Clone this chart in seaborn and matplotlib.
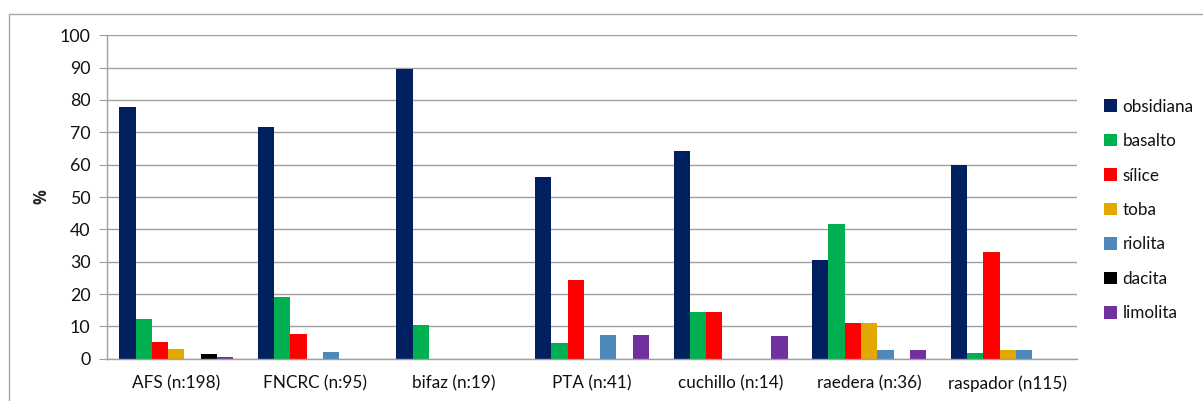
import matplotlib
matplotlib.use("Agg")
import matplotlib.pyplot as plt
import seaborn as sns
import pandas as pd
from matplotlib.patches import Rectangle, Patch

categories = ["AFS (n:198)", "FNCRC (n:95)", "bifaz (n:19)", "PTA (n:41)",
              "cuchillo (n:14)", "raedera (n:36)", "raspador (n115)"]
materials = ["obsidiana", "basalto", "sílice", "toba", "riolita", "dacita", "limolita"]

obsidiana = [77.9, 71.7, 89.5, 56.1, 64.3, 30.6, 60.0]
basalto   = [12.2, 19.2, 10.5, 4.9, 14.3, 41.7, 1.7]
silice    = [5.2, 7.5, 0.0, 24.4, 14.3, 11.1, 33.0]
toba      = [3.0, 0.0, 0.0, 0.0, 0.0, 11.0, 2.6]
riolita   = [0.0, 2.1, 0.0, 7.3, 0.0, 2.8, 2.6]
dacita    = [1.5, 0.0, 0.0, 0.0, 0.0, 0.0, 0.0]
limolita  = [0.5, 0.0, 0.0, 7.3, 7.1, 2.8, 0.0]

colors = ["#002060", "#00B050", "#FF0000", "#E3A800", "#4F88BD", "#000000", "#7030A0"]

series = [obsidiana, basalto, silice, toba, riolita, dacita, limolita]
rows = []
for mat, vals in zip(materials, series):
    for cat, v in zip(categories, vals):
        rows.append({"cat": cat, "mat": mat, "val": v})
df = pd.DataFrame(rows)

sns.set_style("white")
plt.rcParams['font.family'] = ['Lato', 'DejaVu Sans']

W, H = 1203, 401
fig = plt.figure(figsize=(W / 100, H / 100), dpi=100)
fig.patch.set_facecolor("white")

ax = fig.add_axes([107 / W, (H - 358.7) / H, 970 / W, (358.7 - 35.3) / H])
sns.barplot(data=df, x="cat", y="val", hue="mat", hue_order=materials,
            order=categories, palette=colors, width=0.823, saturation=1,
            ax=ax, legend=False, errorbar=None)

for bar in ax.patches:
    bar.set_edgecolor("none")

ax.set_ylim(0, 100)
ax.set_yticks(range(0, 101, 10))
ax.set_xlim(-0.5, len(categories) - 0.5)
ax.yaxis.grid(True, color="#a0a0a0", linewidth=1.0)
ax.set_axisbelow(True)
for s in ["top", "right"]:
    ax.spines[s].set_visible(False)
ax.spines["left"].set_color("#a0a0a0")
ax.spines["bottom"].set_color("#a0a0a0")
ax.spines["left"].set_linewidth(1.0)
ax.spines["bottom"].set_linewidth(1.0)
ax.tick_params(axis="y", length=6, color="#a0a0a0", labelsize=12.8, pad=6, left=True,
               labelcolor="#111111")
ax.tick_params(axis="x", length=0, labelsize=12.3, pad=12, labelcolor="#111111")
ax.set_xlabel("")
ax.set_ylabel("%", fontsize=12, fontweight="bold", family=["Open Sans", "DejaVu Sans"])
ax.yaxis.set_label_coords((50 - 107) / 970, 0.5)

handles = [Patch(facecolor=c, edgecolor="none") for c in colors]
leg = fig.legend(handles, materials, loc="center left",
                 bbox_to_anchor=(1097 / W, (H - 210) / H),
                 frameon=False, fontsize=12.3, handlelength=0.75, handleheight=0.75,
                 handletextpad=0.35, labelspacing=1.08, borderaxespad=0)
for t in leg.get_texts():
    t.set_color("#111111")

fig.patches.append(Rectangle((8.5 / W, -0.2), 1.5, (H - 14) / H + 0.2,
                             transform=fig.transFigure, fill=False,
                             edgecolor="#a6a6a6", linewidth=1.0))

fig.savefig("out.png", dpi=100)
